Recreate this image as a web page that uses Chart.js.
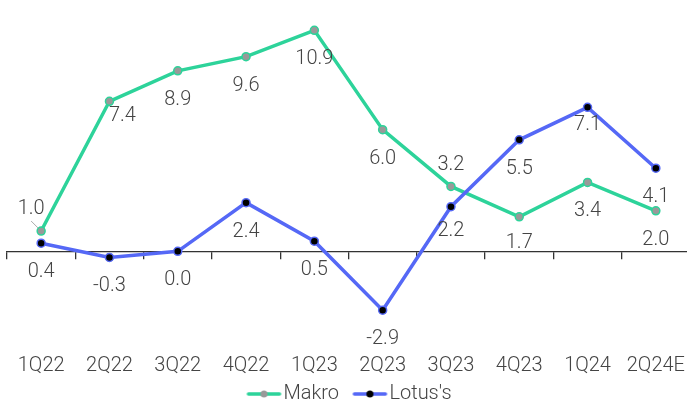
<!DOCTYPE html>
<html>
<head>
<meta charset="utf-8">
<script src="https://cdn.jsdelivr.net/npm/chart.js@4.4.1/dist/chart.umd.min.js"></script>
<style>
  html, body { margin: 0; padding: 0; background: #fff; overflow: hidden; }
  canvas { display: block; }
</style>
</head>
<body>
<canvas id="myChart" width="700" height="400"></canvas>
<script>
const quarters = ['1Q22', '2Q22', '3Q22', '4Q22', '1Q23', '2Q23', '3Q23', '4Q23', '1Q24', '2Q24E'];
const makro = [1.0, 7.4, 8.9, 9.6, 10.9, 6.0, 3.2, 1.7, 3.4, 2.0];
const lotus = [0.4, -0.3, 0.0, 2.4, 0.5, -2.9, 2.2, 5.5, 7.1, 4.1];
const seriesNames = ['Makro', "Lotus's"];

const green = '#2dd39a';
const blue = '#5568f6';
const textColor = '#444';
const fontFamily = 'Roboto';

// line+dot swatches for the legend (drawn a bit left of centre so the text sits close)
function legendIcon(lineColor, dotColor) {
  const c = document.createElement('canvas');
  c.width = 40; c.height = 12;
  const g = c.getContext('2d');
  g.strokeStyle = lineColor;
  g.lineWidth = 3.5;
  g.lineCap = 'round';
  g.beginPath(); g.moveTo(3, 6); g.lineTo(34, 6); g.stroke();
  g.fillStyle = dotColor;
  g.beginPath(); g.arc(18.5, 6, 3.5, 0, Math.PI * 2); g.fill();
  return c;
}
const icons = [legendIcon(green, '#999'), legendIcon(blue, '#000')];

// where a value label sits when it is not straight under its point
const labelTweaks = {
  0: { 0: { dx: -10, dy: -24, leader: true }, 1: { dx: 13, dy: 13 }, 6: { dy: -23 }, 7: { dy: 24 } },
  1: { 6: { dy: 22 }, 8: { dy: 16 } }
};

const valueLabels = {
  id: 'valueLabels',
  afterDatasetsDraw(chart) {
    const ctx = chart.ctx;
    ctx.save();
    ctx.font = '300 20px ' + fontFamily;
    ctx.fillStyle = textColor;
    ctx.textAlign = 'center';
    ctx.textBaseline = 'alphabetic';
    chart.data.datasets.forEach((ds, di) => {
      chart.getDatasetMeta(di).data.forEach((pt, i) => {
        const t = (labelTweaks[di] || {})[i] || {};
        const dx = t.dx || 0;
        const dy = t.dy === undefined ? 27 : t.dy;
        ctx.fillText(ds.data[i].toFixed(1), pt.x + dx, pt.y + dy + 7);
        if (t.leader) {
          ctx.strokeStyle = '#aaa';
          ctx.lineWidth = 1;
          ctx.beginPath();
          ctx.moveTo(pt.x - 10, pt.y - 10);
          ctx.lineTo(pt.x - 3, pt.y - 3);
          ctx.stroke();
        }
      });
    });
    ctx.restore();
  }
};

// canvas is wider than the window: pull the legend toward the visible middle,
// and lift it a little so the quarter labels get more room above it
const nudgeLegend = {
  id: 'nudgeLegend',
  afterLayout(chart) {
    const lg = chart.legend;
    lg.left += 6; lg.right += 6;
    lg.top -= 5; lg.bottom -= 5;
  }
};

new Chart(document.getElementById('myChart'), {
  type: 'line',
  data: {
    labels: quarters,
    datasets: [
      {
        label: seriesNames[0],
        data: makro,
        order: 1,
        borderColor: green,
        borderWidth: 3.5,
        pointBackgroundColor: '#999',
        pointBorderColor: green,
        pointBorderWidth: 1.5,
        pointRadius: 4,
        tension: 0,
        xAxisID: 'x',
        yAxisID: 'y'
      },
      {
        label: seriesNames[1],
        data: lotus,
        order: 0,
        borderColor: blue,
        borderWidth: 3.5,
        pointBackgroundColor: '#000',
        pointBorderColor: blue,
        pointBorderWidth: 1.5,
        pointRadius: 4,
        tension: 0,
        xAxisID: 'x',
        yAxisID: 'y'
      }
    ]
  },
  options: {
    responsive: false,
    animation: false,
    layout: { padding: { top: 8, left: 7, right: 10, bottom: -19 } },
    scales: {
      x: {
        type: 'category',
        position: { y: 0 },
        offset: true,
        grid: { offset: true, drawOnChartArea: false, drawTicks: true, tickLength: 7, color: '#333', lineWidth: 1.3 },
        border: { display: true, color: '#333', width: 1.3 },
        ticks: { display: false }
      },
      x2: {
        type: 'category',
        position: 'bottom',
        offset: true,
        grid: { display: false, drawTicks: false },
        border: { display: false },
        ticks: {
          color: textColor,
          padding: 5,
          maxRotation: 0,
          autoSkip: false,
          font: { family: fontFamily, size: 20, weight: '300', lineHeight: 1.77 }
        }
      },
      y: { display: false, min: -4.55, max: 12 }
    },
    plugins: {
      tooltip: { enabled: false },
      legend: {
        position: 'bottom',
        labels: {
          color: textColor,
          padding: 0,
          usePointStyle: true,
          pointStyleWidth: 16,
          font: { family: fontFamily, size: 20, weight: '300' },
          sort: (a, b) => a.datasetIndex - b.datasetIndex,
          generateLabels(chart) {
            const items = Chart.defaults.plugins.legend.labels.generateLabels(chart);
            items.forEach(it => {
              it.pointStyle = icons[it.datasetIndex];
              if (it.datasetIndex === 0) it.text += '     ';
            });
            return items;
          }
        }
      }
    }
  },
  plugins: [valueLabels, nudgeLegend]
});
</script>
</body>
</html>
